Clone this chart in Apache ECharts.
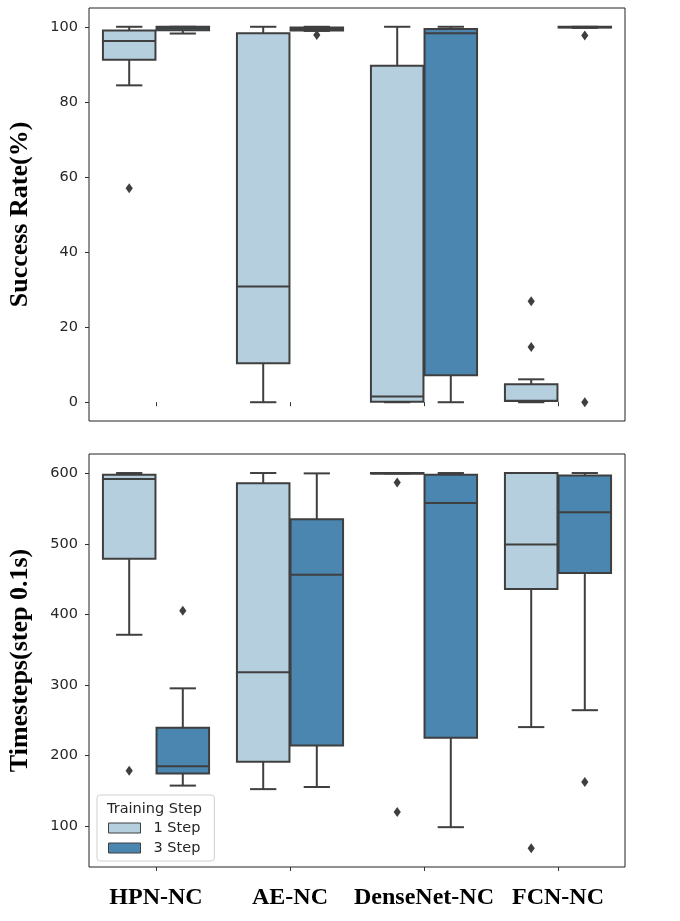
<!DOCTYPE html>
<html>
<head>
<meta charset="utf-8">
<script src="https://cdn.jsdelivr.net/npm/echarts@6/dist/echarts.min.js"></script>
<style>
  html, body { margin: 0; padding: 0; background: #fff; }
  #chart { width: 680px; height: 921px; }
</style>
</head>
<body>
<div id="chart"></div>
<script>
const categories = ['HPN-NC', 'AE-NC', 'DenseNet-NC', 'FCN-NC'];

// [category, lower whisker, Q1, median, Q3, upper whisker]
const successOneStep = [
  [0, 84.4, 91.2, 96.2, 99.0, 100],
  [1, 0, 10.4, 30.8, 98.3, 100],
  [2, 0, 0.1, 1.5, 89.6, 100],
  [3, 0, 0.3, 0.4, 4.8, 6.1]
];
const successThreeStep = [
  [0, 98.2, 99.1, 99.6, 100, 100],
  [1, 98.9, 99.0, 99.4, 99.8, 100],
  [2, 0, 7.2, 98.3, 99.4, 100],
  [3, 99.7, 99.8, 99.9, 100, 100]
];
const successOneOutliers = [[0, 57.0], [3, 26.9], [3, 14.7]];
const successThreeOutliers = [[1, 97.8], [3, 97.7], [3, 0]];

const timeOneStep = [
  [0, 371, 479, 592, 598, 600.5],
  [1, 152, 191, 318, 586, 600.5],
  [2, 600, 600, 600, 600.5, 600.5],
  [3, 240, 436, 499, 600.5, 600.5]
];
const timeThreeStep = [
  [0, 157, 174, 184.5, 239, 295],
  [1, 155, 214, 456, 535, 600],
  [2, 98, 225, 558, 598, 600.5],
  [3, 264, 458.5, 545, 597, 600.5]
];
const timeOneOutliers = [[0, 178], [2, 587], [2, 119.5], [3, 68]];
const timeThreeOutliers = [[0, 405], [3, 162]];

const successTicks = [0, 20, 40, 60, 80, 100];
const timeTicks = [100, 200, 300, 400, 500, 600];

const lightBlue = '#b6cfdf';
const darkBlue = '#4a86b0';
const edgeGray = '#3f3f3f';

// draws one seaborn style box, shifted left (-1) or right (+1) in the band
const boxRenderer = (side) => (params, api) => {
  const idx = api.value(0);
  const band = api.size([1, 0])[0];
  const boxW = band * 0.4 * 0.98;
  const cx = api.coord([idx, 0])[0] + side * band * 0.2;
  const y = (v) => api.coord([idx, v])[1];
  const low = y(api.value(1)), q1 = y(api.value(2)), med = y(api.value(3));
  const q3 = y(api.value(4)), high = y(api.value(5));
  const lineStyle = { stroke: edgeGray, lineWidth: 2 };
  const capHalf = boxW / 4;
  return {
    type: 'group',
    children: [
      { type: 'line', shape: { x1: cx, y1: q1, x2: cx, y2: low }, style: lineStyle },
      { type: 'line', shape: { x1: cx, y1: q3, x2: cx, y2: high }, style: lineStyle },
      { type: 'line', shape: { x1: cx - capHalf, y1: low, x2: cx + capHalf, y2: low }, style: lineStyle },
      { type: 'line', shape: { x1: cx - capHalf, y1: high, x2: cx + capHalf, y2: high }, style: lineStyle },
      {
        type: 'rect',
        shape: { x: cx - boxW / 2, y: q3, width: boxW, height: Math.max(q1 - q3, 0.5) },
        style: { fill: api.visual('color'), stroke: edgeGray, lineWidth: 2 }
      },
      { type: 'line', shape: { x1: cx - boxW / 2, y1: med, x2: cx + boxW / 2, y2: med }, style: lineStyle }
    ]
  };
};

const outlierRenderer = (side) => (params, api) => {
  const idx = api.value(0);
  const band = api.size([1, 0])[0];
  const pt = api.coord([idx, api.value(1)]);
  const cx = pt[0] + side * band * 0.2;
  const cy = pt[1];
  return {
    type: 'polygon',
    shape: { points: [[cx, cy - 5], [cx + 3.6, cy], [cx, cy + 5], [cx - 3.6, cy]] },
    style: { fill: edgeGray }
  };
};

const tickFont = { fontFamily: 'DejaVu Sans', fontSize: 14.5, color: '#262626' };
const nameFont = { fontFamily: 'Liberation Serif', fontWeight: 'bold', fontSize: 26, color: '#000' };

const makeYAxis = (gridIndex, name, min, max, ticks) => ({
  type: 'value',
  gridIndex: gridIndex,
  min: min,
  max: max,
  name: name,
  nameLocation: 'middle',
  nameGap: 56,
  nameTextStyle: nameFont,
  splitLine: { show: false },
  axisLine: { show: false },
  axisTick: { show: true, length: 4, lineStyle: { color: '#333' }, customValues: ticks },
  axisLabel: Object.assign({ margin: 11, customValues: ticks }, tickFont)
});

const makeXAxis = (gridIndex, showLabels) => ({
  type: 'category',
  gridIndex: gridIndex,
  data: categories,
  axisLine: { show: false },
  axisTick: { show: true, alignWithLabel: true, interval: 0, length: 4, lineStyle: { color: '#333' } },
  axisLabel: {
    show: showLabels,
    interval: 0,
    margin: 19,
    fontFamily: 'Liberation Serif',
    fontWeight: 'bold',
    fontSize: 24,
    color: '#000'
  }
});

const option = {
  animation: false,
  title: {
    text: 'Training Step',
    left: 102,
    top: 797,
    textStyle: { fontFamily: 'DejaVu Sans', fontSize: 14.5, fontWeight: 'normal', color: '#262626' }
  },
  legend: {
    data: ['1 Step', '3 Step'],
    orient: 'vertical',
    left: 97,
    top: 795,
    icon: 'rect',
    itemWidth: 32,
    itemHeight: 10,
    itemGap: 4,
    padding: [25, 14, 5, 11],
    borderColor: '#d0d0d0',
    borderWidth: 1,
    borderRadius: 3,
    itemStyle: { borderColor: edgeGray, borderWidth: 1 },
    textStyle: { fontFamily: 'DejaVu Sans', fontSize: 14.5, color: '#262626', lineHeight: 16, padding: [0, 0, 0, 8] }
  },
  grid: [
    { left: 89, top: 8, width: 536, height: 413, show: true, borderColor: '#222', borderWidth: 1,
      containLabel: false, outerBoundsMode: 'none' },
    { left: 89, top: 454, width: 536, height: 413, show: true, borderColor: '#222', borderWidth: 1,
      containLabel: false, outerBoundsMode: 'none' }
  ],
  xAxis: [makeXAxis(0, false), makeXAxis(1, true)],
  yAxis: [
    makeYAxis(0, 'Success Rate(%)', -5, 105, successTicks),
    makeYAxis(1, 'Timesteps(step 0.1s)', 41.5, 627.5, timeTicks)
  ],
  series: [
    { name: '1 Step', type: 'custom', xAxisIndex: 0, yAxisIndex: 0, itemStyle: { color: lightBlue },
      renderItem: boxRenderer(-1), data: successOneStep, encode: { x: 0, y: [1, 2, 3, 4, 5] } },
    { name: '3 Step', type: 'custom', xAxisIndex: 0, yAxisIndex: 0, itemStyle: { color: darkBlue },
      renderItem: boxRenderer(1), data: successThreeStep, encode: { x: 0, y: [1, 2, 3, 4, 5] } },
    { name: '1 Step', type: 'custom', xAxisIndex: 1, yAxisIndex: 1, itemStyle: { color: lightBlue },
      renderItem: boxRenderer(-1), data: timeOneStep, encode: { x: 0, y: [1, 2, 3, 4, 5] } },
    { name: '3 Step', type: 'custom', xAxisIndex: 1, yAxisIndex: 1, itemStyle: { color: darkBlue },
      renderItem: boxRenderer(1), data: timeThreeStep, encode: { x: 0, y: [1, 2, 3, 4, 5] } },
    { name: 'out1a', type: 'custom', xAxisIndex: 0, yAxisIndex: 0,
      renderItem: outlierRenderer(-1), data: successOneOutliers, encode: { x: 0, y: 1 } },
    { name: 'out3a', type: 'custom', xAxisIndex: 0, yAxisIndex: 0,
      renderItem: outlierRenderer(1), data: successThreeOutliers, encode: { x: 0, y: 1 } },
    { name: 'out1b', type: 'custom', xAxisIndex: 1, yAxisIndex: 1,
      renderItem: outlierRenderer(-1), data: timeOneOutliers, encode: { x: 0, y: 1 } },
    { name: 'out3b', type: 'custom', xAxisIndex: 1, yAxisIndex: 1,
      renderItem: outlierRenderer(1), data: timeThreeOutliers, encode: { x: 0, y: 1 } }
  ]
};

const chart = echarts.init(document.getElementById('chart'));
chart.setOption(option);
</script>
</body>
</html>
